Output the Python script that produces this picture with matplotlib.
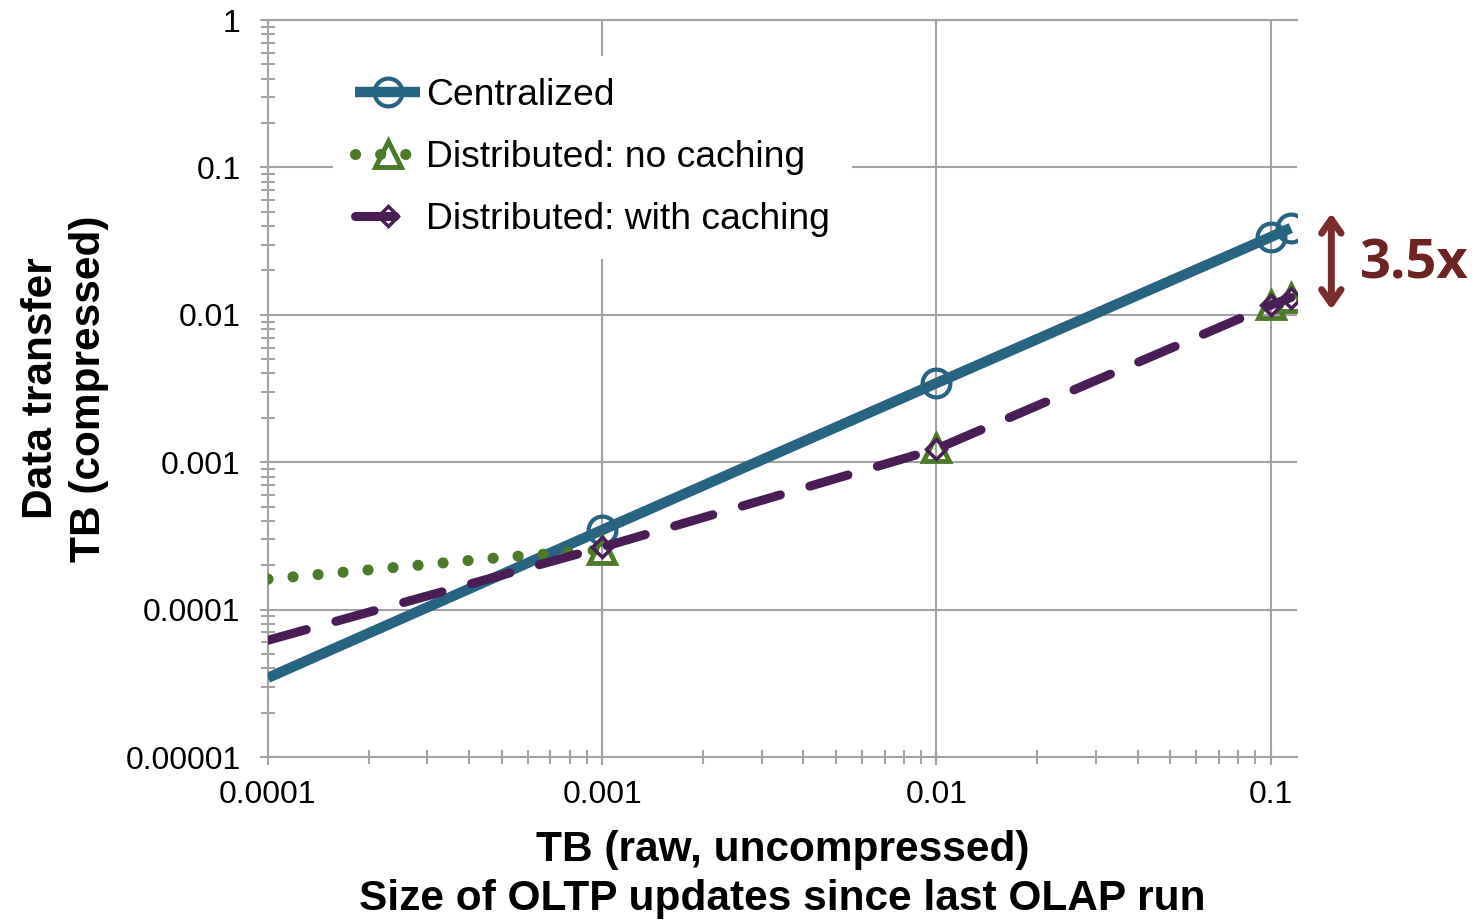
import matplotlib
matplotlib.use("Agg")
import matplotlib.pyplot as plt
from matplotlib.ticker import LogLocator, FixedLocator, FixedFormatter, NullFormatter

plt.rcParams['font.family'] = ['Liberation Sans', 'DejaVu Sans']

# data (TB raw -> TB compressed)
central_x = [0.0001, 0.001, 0.01, 0.1, 0.115]
central_y = [3.45e-5, 3.47e-4, 3.44e-3, 0.0337, 0.0388]

nocache_x = [0.0001, 0.0002, 0.0005, 0.001, 0.01, 0.1, 0.115]
nocache_y = [1.61e-4, 1.86e-4, 2.26e-4, 2.55e-4, 1.25e-3, 0.0117, 0.0131]

cache_x = [0.0001, 0.001, 0.01, 0.1, 0.115]
cache_y = [6.2e-5, 2.65e-4, 1.23e-3, 0.0116, 0.0131]

x_ticks = [0.0001, 0.001, 0.01, 0.1]
x_labels = ["0.0001", "0.001", "0.01", "0.1"]
y_ticks = [0.00001, 0.0001, 0.001, 0.01, 0.1, 1]
y_labels = ["0.00001", "0.0001", "0.001", "0.01", "0.1", "1"]

blue = "#276382"
green = "#4c7a26"
purple = "#4a1d56"
gray = "#a3a3a3"

fig = plt.figure(figsize=(14.83, 9.23), dpi=100)
ax = fig.add_axes([0.1807, 0.1798, 0.8746 - 0.1807, 0.9783 - 0.1798])
ax.set_xscale("log")
ax.set_yscale("log")
ax.set_xlim(0.0001, 0.12)
ax.set_ylim(0.00001, 1)

ax.grid(True, which="major", color=gray, lw=1.5)
ax.set_axisbelow(True)
ax.spines["right"].set_visible(False)
for s in ["left", "bottom", "top"]:
    ax.spines[s].set_color(gray)
    ax.spines[s].set_linewidth(1.5)

ax.xaxis.set_major_locator(FixedLocator(x_ticks))
ax.xaxis.set_major_formatter(FixedFormatter(x_labels))
ax.yaxis.set_major_locator(FixedLocator(y_ticks))
ax.yaxis.set_major_formatter(FixedFormatter(y_labels))
ax.xaxis.set_minor_locator(LogLocator(base=10, subs=range(2, 10), numticks=20))
ax.yaxis.set_minor_locator(LogLocator(base=10, subs=range(2, 10), numticks=20))
ax.xaxis.set_minor_formatter(NullFormatter())
ax.yaxis.set_minor_formatter(NullFormatter())
ax.tick_params(which="both", direction="inout", color=gray, width=1.5,
               labelsize=23, top=False, right=False)
ax.tick_params(which="major", length=11.5)
ax.tick_params(which="minor", length=9.5)
ax.tick_params(axis="x", which="major", pad=11)
ax.tick_params(axis="y", which="major", pad=14)

# series
ax.plot(central_x, central_y, color=blue, lw=7.5, solid_capstyle="butt",
        marker="o", markevery=[1, 2, 3, 4], ms=20, mfc="none", mec=blue,
        mew=3, label="Centralized", zorder=3)

ax.plot(nocache_x[:4], nocache_y[:4], color=green, lw=8,
        dashes=(0.01, 2.25), dash_capstyle="round", zorder=3)
ax.plot(nocache_x[3:], nocache_y[3:], ls="none", marker="^", ms=19,
        mfc="none", mec=green, mew=3.5, zorder=3)
nocache_handle, = ax.plot([], [], color=green, lw=8, dashes=(0.01, 2.25),
                          dash_capstyle="round", marker="^", ms=19,
                          mfc="none", mec=green, mew=3.5,
                          label="Distributed: no caching")

ax.plot(cache_x, cache_y, color=purple, lw=6.5, dashes=(4.4, 3.4),
        dash_capstyle="round", marker="D", markevery=[1, 2, 3, 4], ms=10,
        mfc="none", mec=purple, mew=2.5, label="Distributed: with caching",
        zorder=4)

leg = ax.legend(loc="upper left", bbox_to_anchor=(0.063, 0.951),
                fontsize=26.8, frameon=True, facecolor="white",
                edgecolor="none", framealpha=1, borderpad=0.6,
                labelspacing=0.72, handlelength=1.75, handletextpad=0.15,
                borderaxespad=0)
leg.set_zorder(5)

ax.set_xlabel("TB (raw, uncompressed)\nSize of OLTP updates since last OLAP run",
              fontsize=30.5, fontweight="bold", labelpad=14, linespacing=1.3)
ax.set_ylabel("Data transfer\nTB (compressed)", fontsize=30.5,
              fontweight="bold", labelpad=12, linespacing=1.25)

# 3.5x annotation
ax.annotate("", xy=(0.152, 0.0104), xytext=(0.152, 0.051),
            arrowprops=dict(arrowstyle="<->,head_length=1.0,head_width=0.7",
                            color="#7b2c2c", lw=5),
            annotation_clip=False)
ax.text(1.061, 0.668, "3.5x", transform=ax.transAxes, fontsize=39,
        fontweight="bold", color="#6e2323", family=["Open Sans", "DejaVu Sans"],
        va="center", ha="left")

fig.savefig("out.png", dpi=100)
